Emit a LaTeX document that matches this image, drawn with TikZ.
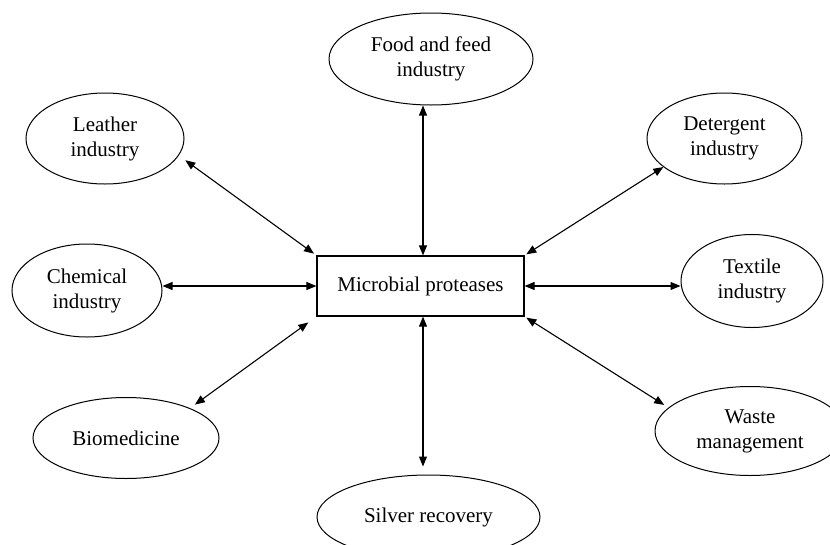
\documentclass[tikz,border=0pt]{standalone}
\usepackage{fontspec}
\setmainfont{Liberation Serif}
\usetikzlibrary{shapes.geometric,arrows.meta}
\begin{document}
\begin{tikzpicture}[x=1pt,y=-1pt,
  every node/.style={font=\fontsize{21}{25}\selectfont, align=center, inner sep=0pt},
  appl/.style={draw, ellipse, line width=1pt},
  hub/.style={draw, rectangle, line width=1.2pt, minimum width=207pt, minimum height=60pt},
  link/.style={line width=1.1pt, {Triangle[length=10pt,width=8pt]}-{Triangle[length=10pt,width=8pt]}}]
\useasboundingbox (0,0) rectangle (830,544);
\node[hub] (mp) at (420.5,286) {Microbial proteases};
\node[appl, minimum width=204pt, minimum height=92pt] (food) at (431,59) {Food and feed\\industry};
\node[appl, minimum width=158pt, minimum height=91pt] (leather) at (105,138.5) {Leather\\industry};
\node[appl, minimum width=155pt, minimum height=91pt] (deter) at (724.5,138.5) {Detergent\\industry};
\node[appl, minimum width=150pt, minimum height=93pt] (chem) at (87,290.5) {Chemical\\industry};
\node[appl, minimum width=142pt, minimum height=93pt] (textile) at (752,281) {Textile\\industry};
\node[appl, minimum width=186pt, minimum height=81pt] (bio) at (126,438) {Biomedicine};
\node[appl, minimum width=190pt, minimum height=89pt] (waste) at (750,431) {Waste\\management};
\node[appl, minimum width=223pt, minimum height=84pt] (silver) at (428.5,517) {Silver recovery};
\draw[link] ([xshift=2.5pt]mp.north) -- ([xshift=2.5pt]mp.north |- food.south);
\draw[link] ([xshift=2.5pt]mp.south) -- ([xshift=2.5pt]mp.south |- silver.north) [shorten >=8pt];
\draw[link, shorten <=8pt, shorten >=3pt] (leather.-13) -- (mp.north west);
\draw[link, shorten >=2pt] (deter.-155) -- (mp.north east);
\draw[link] (chem.east |- mp.west) -- (mp.west);
\draw[link] (mp.east) -- (mp.east -| textile.west);
\draw[link, shorten <=6pt, shorten >=10pt] (bio.25) -- (mp.south west);
\draw[link, shorten >=5pt, shorten <=2pt] (mp.south east) -- (waste.164);
\end{tikzpicture}
\end{document}
